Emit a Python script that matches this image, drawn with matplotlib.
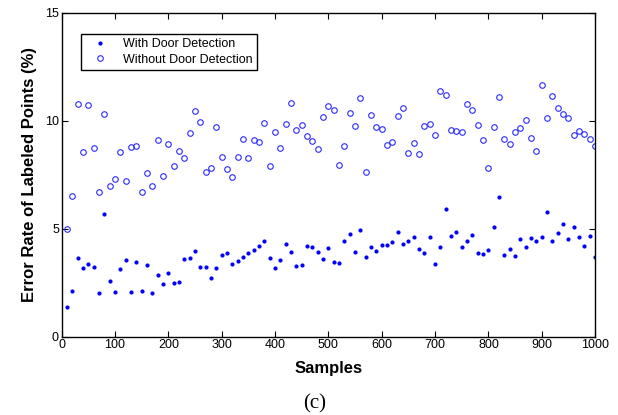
import matplotlib
matplotlib.use('Agg')
import matplotlib.pyplot as plt

samples = list(range(10, 1001, 10))

# error rate (%) with door detection
with_door = [1.36, 2.11, 3.66, 3.19, 3.35, 3.24, 2.01, 5.66, 2.56, 2.08,
             3.15, 3.55, 2.08, 3.44, 2.11, 3.32, 2.04, 2.87, 2.42, 2.93,
             2.48, 2.55, 3.60, 3.63, 3.97, 3.21, 3.21, 2.70, 3.18, 3.80,
             3.86, 3.38, 3.52, 3.69, 3.86, 4.00, 4.20, 4.41, 3.66, 3.16,
             3.55, 4.27, 3.92, 3.27, 3.30, 4.20, 4.17, 3.92, 3.58, 4.09,
             3.46, 3.41, 4.44, 4.75, 3.92, 4.92, 3.69, 4.14, 3.95, 4.23,
             4.23, 4.37, 4.86, 4.27, 4.44, 4.61, 4.06, 3.89, 4.61, 3.35,
             4.17, 5.91, 4.68, 4.86, 4.17, 4.44, 4.72, 3.86, 3.83, 4.03,
             5.09, 6.47, 3.78, 4.06, 3.75, 4.51, 4.14, 4.58, 4.44, 4.61,
             5.77, 4.44, 4.78, 5.20, 4.51, 5.06, 4.61, 4.20, 4.64, 3.69]

# error rate (%) without door detection
without_door = [5.00, 6.51, 10.76, 8.53, 10.72, 8.73, 6.68, 10.31, 6.99, 7.30,
                8.53, 7.21, 8.78, 8.84, 6.71, 7.58, 6.99, 9.10, 7.44, 8.94,
                7.92, 8.60, 8.29, 9.43, 10.45, 9.95, 7.61, 7.81, 9.69, 8.30,
                7.75, 7.39, 8.30, 9.15, 8.26, 9.12, 9.01, 9.89, 7.89, 9.46,
                8.73, 9.86, 10.82, 9.58, 9.80, 9.29, 9.07, 8.67, 10.17, 10.68,
                10.51, 7.96, 8.81, 10.37, 9.77, 11.05, 7.64, 10.28, 9.72, 9.60,
                8.86, 9.01, 10.22, 10.57, 8.50, 8.95, 8.47, 9.74, 9.83, 9.35,
                11.37, 11.20, 9.57, 9.52, 9.49, 10.76, 10.48, 9.80, 9.10, 7.82,
                9.69, 11.10, 9.17, 8.92, 9.46, 9.66, 10.05, 9.20, 8.58, 11.64,
                10.11, 11.16, 10.57, 10.32, 10.11, 9.35, 9.52, 9.40, 9.15, 8.81]

plt.rcParams['font.family'] = ['Liberation Sans', 'DejaVu Sans']

fig = plt.figure(figsize=(6.18, 4.15), dpi=100)
ax = fig.add_axes([0.0998, 0.1887, 0.8632, 0.7807])

ax.plot(samples, with_door, linestyle='none', marker='.', color='#0000ff',
        markersize=4, label='With Door Detection')
ax.plot(samples, without_door, linestyle='none', marker='o', markerfacecolor='none',
        markeredgecolor='#2a2aff', markeredgewidth=0.8, markersize=4,
        label='Without Door Detection')

ax.set_xlim(0, 1000)
ax.set_ylim(0, 15)
ax.set_xticks(range(0, 1001, 100))
ax.set_yticks([0, 5, 10, 15])
ax.tick_params(direction='in', top=True, right=True, labelsize=9, length=4, width=0.8, pad=2)
for s in ax.spines.values():
    s.set_linewidth(1.0)

ax.set_xlabel('Samples', fontsize=12, fontweight='bold', labelpad=7)
ax.set_ylabel('Error Rate of Labeled Points (%)', fontsize=12, fontweight='bold', labelpad=6)

leg = ax.legend(loc='upper left', bbox_to_anchor=(0.036, 0.934), borderaxespad=0,
                fontsize=9, fancybox=False, framealpha=1, edgecolor='black',
                borderpad=0.35, handletextpad=0.6, handlelength=2.4, labelspacing=0.25)
leg.get_frame().set_linewidth(1.0)

fig.text(0.509, 0.015, '(c)', fontsize=15, family='Liberation Serif', ha='center')

fig.savefig('out.png', dpi=100)
